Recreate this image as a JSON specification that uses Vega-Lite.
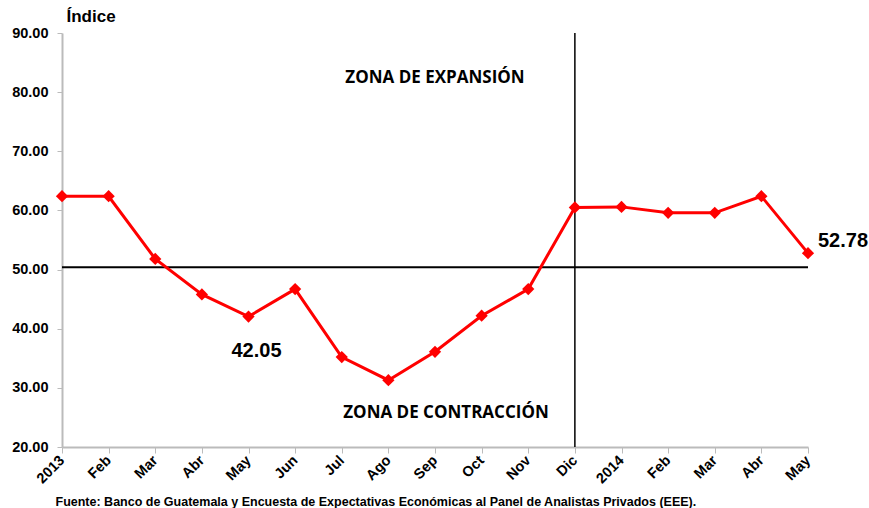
{
  "$schema": "https://vega.github.io/schema/vega-lite/v6.json",
  "width": 746,
  "height": 414,
  "autosize": {"type": "none"},
  "padding": {"left": 62, "top": 33, "right": 61, "bottom": 61},
  "background": "white",
  "config": {"view": {"stroke": null}, "font": "Liberation Sans"},
  "datasets": {
    "serie": [
      {"i": 0, "v": 62.4}, {"i": 1, "v": 62.4}, {"i": 2, "v": 51.8}, {"i": 3, "v": 45.8},
      {"i": 4, "v": 42.05}, {"i": 5, "v": 46.7}, {"i": 6, "v": 35.2}, {"i": 7, "v": 31.3},
      {"i": 8, "v": 36.1}, {"i": 9, "v": 42.2}, {"i": 10, "v": 46.7}, {"i": 11, "v": 60.5},
      {"i": 12, "v": 60.6}, {"i": 13, "v": 59.6}, {"i": 14, "v": 59.6}, {"i": 15, "v": 62.4},
      {"i": 16, "v": 52.78}
    ],
    "notas": [
      {"i": 4, "v": 36.3, "t": "42.05"},
      {"i": 16, "v": 54.9, "t": "52.78"}
    ],
    "zonas": [
      {"i": 8, "v": 82.4, "t": "ZONA DE EXPANSIÓN"},
      {"i": 8, "v": 25.8, "t": "ZONA DE CONTRACCIÓN"}
    ]
  },
  "encoding": {
    "x": {
      "field": "i", "type": "ordinal",
      "scale": {"type": "point", "padding": 0, "domain": [0,1,2,3,4,5,6,7,8,9,10,11,12,13,14,15,16]},
      "axis": {
        "labelExpr": "['2013','Feb','Mar','Abr','May','Jun','Jul','Ago','Sep','Oct','Nov','Dic','2014','Feb','Mar','Abr','May'][datum.value]",
        "labelAngle": -45, "labelAlign": "right", "labelBaseline": "middle",
        "labelFont": "Liberation Sans", "labelFontWeight": "bold", "labelFontSize": 14.5, "labelColor": "#000",
        "labelPadding": 5,
        "domainColor": "#bbbbbb", "domainWidth": 2, "tickColor": "#bbbbbb", "tickSize": 6, "tickWidth": 1,
        "grid": false,
        "title": "Fuente: Banco de Guatemala y Encuesta  de Expectativas Económicas  al Panel de Analistas  Privados (EEE).",
        "titleFont": "Liberation Sans", "titleFontSize": 12.5, "titleFontWeight": "bold", "titleColor": "#000",
        "titleAnchor": "start", "titleAlign": "left", "titleX": -7, "titleY": 54, "titleBaseline": "middle"
      }
    },
    "y": {
      "field": "v", "type": "quantitative",
      "scale": {"domain": [20, 90], "nice": false, "zero": false},
      "axis": {
        "values": [20,30,40,50,60,70,80,90], "format": ".2f",
        "labelFont": "Liberation Sans", "labelFontWeight": "bold", "labelFontSize": 14.5, "labelColor": "#000",
        "labelPadding": 9,
        "domainColor": "#bbbbbb", "domainWidth": 2, "tickColor": "#bbbbbb", "tickSize": 5,
        "grid": false,
        "title": "Índice", "titleAngle": 0, "titleAlign": "left", "titleX": 4, "titleY": -8,
        "titleBaseline": "bottom", "titleFont": "Liberation Sans", "titleFontSize": 17,
        "titleFontWeight": "bold", "titleColor": "#000"
      }
    }
  },
  "layer": [
    {
      "data": {"values": [{"y": 50.4}]},
      "mark": {"type": "rule", "color": "#000", "strokeWidth": 2},
      "encoding": {"y": {"field": "y", "type": "quantitative"}, "x": null}
    },
    {
      "data": {"values": [{"i": 11}]},
      "mark": {"type": "rule", "color": "#000", "strokeWidth": 1.5},
      "encoding": {"x": {"field": "i", "type": "ordinal"}, "y": null}
    },
    {
      "data": {"name": "serie"},
      "mark": {"type": "line", "color": "#ff0000", "strokeWidth": 3}
    },
    {
      "data": {"name": "serie"},
      "mark": {"type": "point", "shape": "diamond", "filled": true, "color": "#ff0000", "size": 150, "opacity": 1}
    },
    {
      "data": {"name": "notas"},
      "transform": [{"filter": "datum.i == 4"}],
      "mark": {"type": "text", "font": "Liberation Sans", "fontWeight": "bold", "fontSize": 20, "color": "#000", "align": "center", "baseline": "middle", "dx": 8},
      "encoding": {"text": {"field": "t"}}
    },
    {
      "data": {"name": "notas"},
      "transform": [{"filter": "datum.i == 16"}],
      "mark": {"type": "text", "font": "Liberation Sans", "fontWeight": "bold", "fontSize": 20, "color": "#000", "align": "left", "baseline": "middle", "dx": 10},
      "encoding": {"text": {"field": "t"}}
    },
    {
      "data": {"name": "zonas"},
      "transform": [{"filter": "datum.v > 50"}],
      "mark": {"type": "text", "font": "Open Sans", "fontWeight": "bold", "fontSize": 17, "color": "#000", "align": "center", "baseline": "middle", "dx": 0},
      "encoding": {"text": {"field": "t"}}
    },
    {
      "data": {"name": "zonas"},
      "transform": [{"filter": "datum.v < 50"}],
      "mark": {"type": "text", "font": "Open Sans", "fontWeight": "bold", "fontSize": 17, "color": "#000", "align": "center", "baseline": "middle", "dx": 11},
      "encoding": {"text": {"field": "t"}}
    }
  ]
}
